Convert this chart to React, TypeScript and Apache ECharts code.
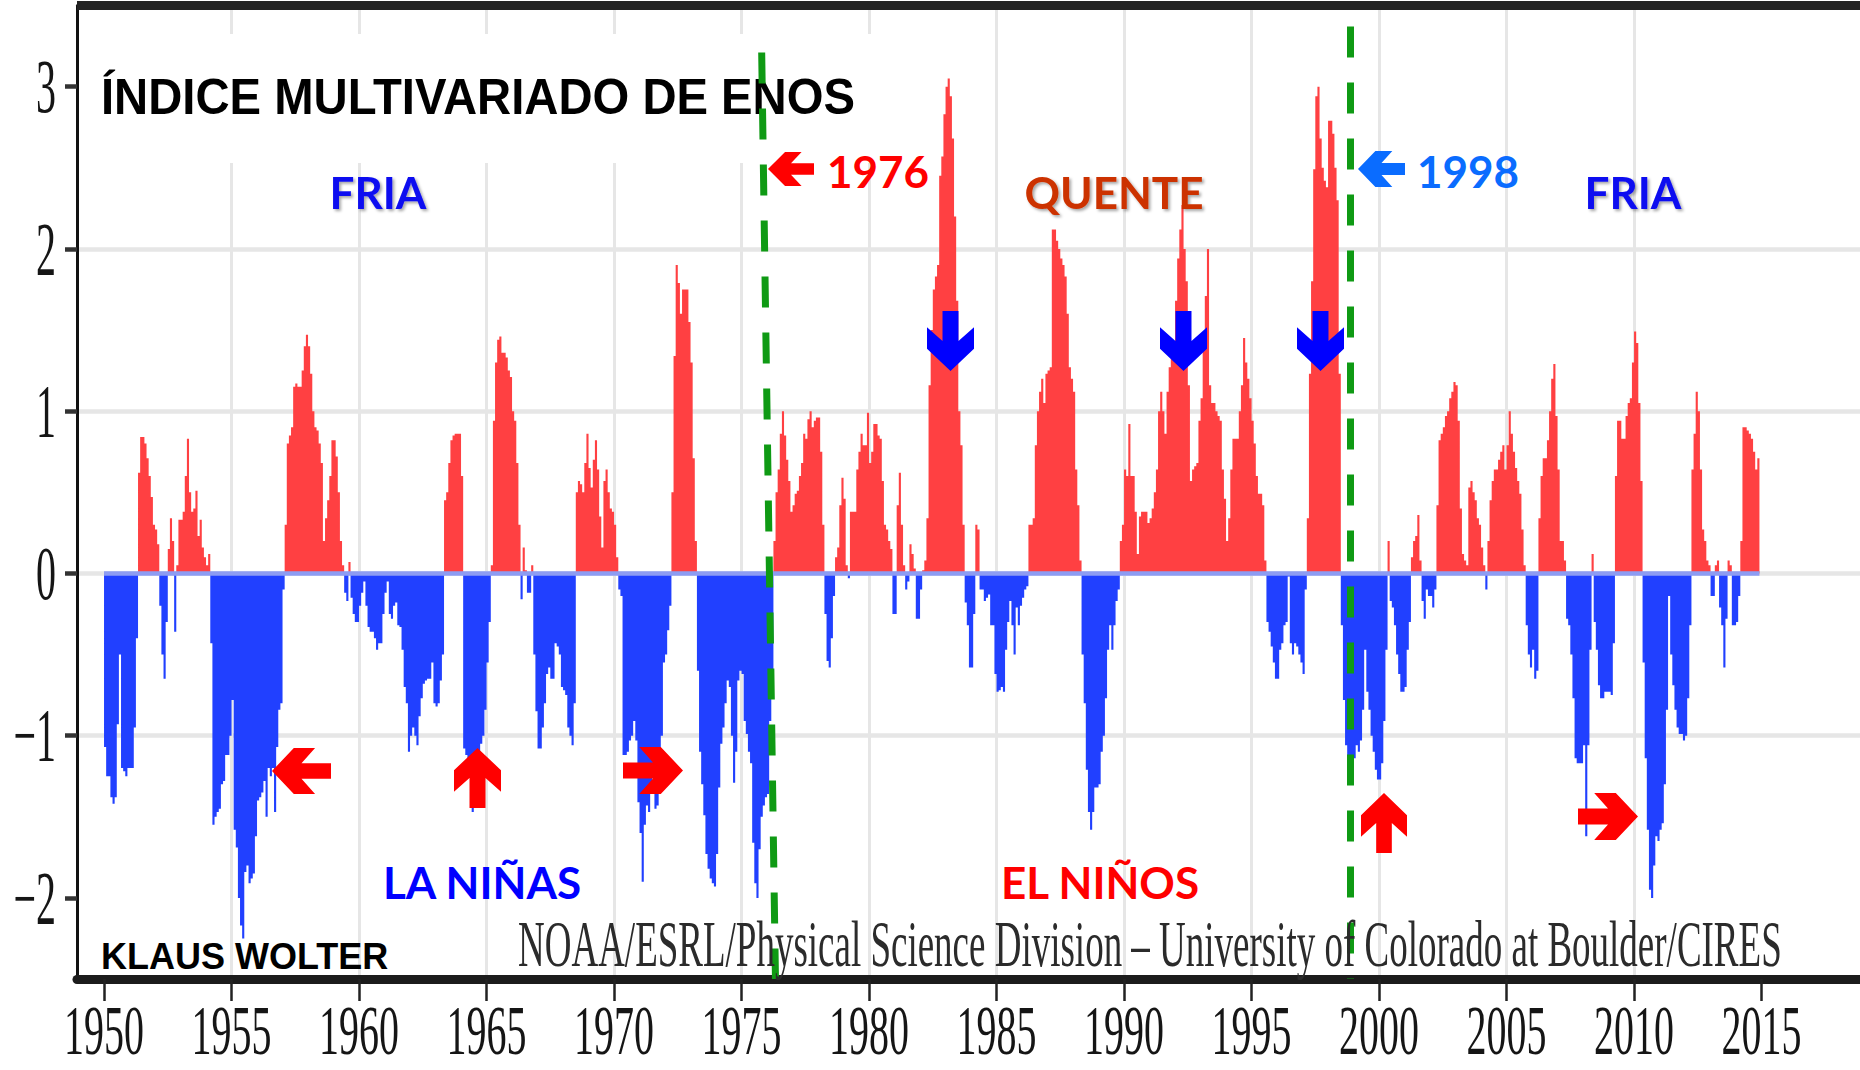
import React, { useEffect, useRef } from "react";
import * as echarts from "echarts";

// ---------------- DATA (monthly MEI values) ----------------
const START_YEAR = 1950;

const mei1950s = [
  -1.07, -1.25, -1.25, -1.38, -1.42, -1.38, -0.93, -0.5, -1.2, -1.22, -1.25, -1.2,
  -1.2, -1.2, -0.95, -0.4, 0.62, 0.84, 0.84, 0.8, 0.71, 0.6, 0.47, 0.3,
  0.27, 0.18, -0.2, -0.5, -0.65, -0.3, 0.15, 0.34, 0.2, -0.36, 0.05, 0.33,
  0.33, 0.38, 0.6, 0.83, 0.5, 0.38, 0.4, 0.51, 0.23, 0.33, 0.16, 0.1,
  0.05, 0.12, -0.43, -1.55, -1.5, -1.47, -1.45, -1.3, -1.28, -1.12, -1.12, -1.0,
  -0.78, -1.58, -1.69, -2.0, -2.17, -2.25, -1.84, -1.8, -1.91, -1.88, -1.85, -1.62,
  -1.4, -1.38, -1.35, -1.28, -1.5, -1.2, -1.25, -1.2, -1.47, -1.07, -0.84, -0.8,
  -0.1, 0.3, 0.8, 0.85, 0.9, 1.15, 1.17, 1.15, 1.15, 1.25, 1.4, 1.47,
  1.4, 1.23, 1.0, 0.9, 0.88, 0.8, 0.68, 0.2, 0.34, 0.45, 0.6, 0.82,
  0.82, 0.72, 0.5, 0.2, 0.05, -0.12, -0.17, 0.07, -0.15, -0.25, -0.3, -0.3,
];
const mei1960s = [
  -0.2, -0.12, -0.05, -0.2, -0.33, -0.36, -0.36, -0.4, -0.47, -0.43, -0.43, -0.25,
  -0.12, -0.05, -0.25, -0.28, -0.2, -0.18, -0.32, -0.33, -0.47, -0.7, -0.8, -1.1,
  -1.0, -0.95, -1.0, -1.06, -0.88, -0.77, -0.68, -0.66, -0.65, -0.65, -0.55, -0.8,
  -0.82, -0.8, -0.66, -0.5, 0.45, 0.5, 0.68, 0.82, 0.85, 0.86, 0.86, 0.86,
  0.6, -1.08, -1.12, -1.14, -1.2, -1.47, -1.13, -1.13, -1.1, -1.05, -1.0, -0.84,
  -0.55, -0.3, 0.05, 0.94, 1.3, 1.44, 1.46, 1.36, 1.36, 1.33, 1.25, 1.21,
  1.0, 0.94, 0.68, 0.3, -0.16, 0.16, 0.02, -0.12, -0.12, 0.05, -0.5, -0.85,
  -1.08, -1.08, -0.95, -0.8, -0.62, -0.58, -0.65, -0.65, -0.43, -0.45, -0.5, -0.7,
  -0.72, -0.75, -0.95, -1.0, -1.06, -0.8, 0.5, 0.57, 0.55, 0.5, 0.68, 0.86,
  0.65, 0.53, 0.7, 0.82, 0.64, 0.35, 0.16, 0.57, 0.64, 0.5, 0.4, 0.38,
];
const mei1970s = [
  0.3, 0.1, -0.1, -0.14, -1.12, -1.12, -1.1, -1.03, -1.0, -0.91, -1.03, -1.41,
  -1.6, -1.9, -1.55, -1.43, -1.47, -1.3, -1.2, -1.45, -1.43, -1.2, -1.0, -0.55,
  -0.5, -0.35, -0.2, 0.5, 1.34, 1.9, 1.79, 1.6, 1.75, 1.75, 1.75, 1.55,
  1.3, 0.71, 0.2, -0.6, -1.1, -1.3, -1.49, -1.73, -1.82, -1.88, -1.91, -1.93,
  -1.73, -1.32, -1.05, -0.95, -0.8, -0.66, -0.7, -1.0, -1.29, -1.1, -0.66, -0.6,
  -0.62, -0.91, -0.99, -1.1, -1.17, -1.66, -1.91, -2.0, -1.7, -1.5, -1.43, -1.38,
  -1.36, -0.91, -0.66, 0.2, 0.5, 0.64, 0.86, 1.0, 0.85, 0.7, 0.57, 0.38,
  0.42, 0.49, 0.51, 0.6, 0.68, 0.86, 0.83, 0.95, 1.0, 0.9, 0.94, 0.96,
  0.96, 0.75, 0.3, -0.25, -0.54, -0.58, -0.4, -0.14, 0.1, 0.16, 0.42, 0.59,
  0.46, 0.05, -0.03, 0.38, 0.38, 0.38, 0.64, 0.75, 0.86, 0.79, 0.79, 0.99,
];
const mei1980s = [
  0.68, 0.75, 0.92, 0.92, 0.85, 0.83, 0.57, 0.3, 0.27, 0.2, 0.15, -0.25,
  -0.25, 0.42, 0.62, 0.3, 0.05, -0.1, -0.05, 0.18, 0.12, 0.03, -0.28, -0.28,
  -0.1, 0.02, 0.08, 0.34, 1.16, 1.5, 1.75, 1.83, 1.9, 2.45, 2.57, 2.83,
  3.0, 3.05, 2.94, 2.68, 2.2, 1.68, 1.0, 0.79, 0.3, -0.18, -0.32, -0.58,
  -0.58, -0.25, 0.3, 0.27, -0.1, -0.1, -0.17, -0.15, -0.13, -0.32, -0.32, -0.62,
  -0.73, -0.72, -0.7, -0.73, -0.47, -0.3, -0.17, -0.32, -0.5, -0.21, -0.32, -0.2,
  -0.15, -0.1, -0.08, 0.3, 0.3, 0.34, 0.79, 1.0, 1.12, 1.2, 1.05, 1.23,
  1.25, 1.27, 2.12, 2.12, 2.05, 2.0, 1.94, 1.9, 1.83, 1.6, 1.27, 1.2,
  1.12, 0.64, 0.42, 0.08, -0.5, -0.8, -1.21, -1.47, -1.58, -1.47, -1.32, -1.32,
  -1.3, -1.1, -1.0, -0.77, -0.47, -0.32, -0.47, -0.32, -0.17, -0.1, 0.2, 0.3,
];
const mei1990s = [
  0.64, 0.6, 0.92, 0.6, 0.6, 0.38, 0.12, 0.35, 0.38, 0.38, 0.38, 0.31,
  0.34, 0.4, 0.5, 0.64, 1.0, 1.12, 1.0, 0.86, 1.12, 1.27, 1.35, 1.42,
  1.68, 1.94, 2.12, 2.27, 2.0, 1.8, 1.16, 0.57, 0.64, 0.66, 0.68, 0.94,
  1.08, 1.38, 1.71, 2.0, 1.16, 1.05, 1.05, 1.0, 0.97, 0.94, 0.64, 0.46,
  0.2, 0.34, 0.64, 0.83, 0.83, 0.83, 1.0, 1.16, 1.45, 1.3, 1.2, 1.08,
  0.94, 0.8, 0.6, 0.49, 0.49, 0.42, 0.08, -0.3, -0.36, -0.45, -0.55, -0.65,
  -0.65, -0.47, -0.43, -0.32, -0.3, -0.02, -0.43, -0.5, -0.43, -0.45, -0.5, -0.55,
  -0.62, -0.1, 0.34, 1.23, 1.8, 2.49, 2.94, 3.0, 2.68, 2.5, 2.42, 2.38,
  2.79, 2.79, 2.71, 2.5, 2.3, 1.23, -0.32, -0.78, -1.06, -1.12, -1.14, -1.14,
  -1.14, -1.06, -1.1, -1.03, -0.84, -0.47, -0.73, -0.84, -1.0, -1.1, -1.21, -1.27,
];
const mei2000s = [
  -1.27, -1.17, -0.91, -0.47, 0.2, -0.17, -0.21, -0.32, -0.5, -0.62, -0.73, -0.73,
  -0.7, -0.47, -0.3, 0.1, 0.2, 0.23, 0.36, 0.08, -0.17, -0.28, -0.1, -0.14,
  -0.14, -0.21, -0.1, 0.42, 0.82, 0.86, 0.9, 0.97, 1.0, 1.08, 1.12, 1.18,
  1.16, 0.94, 0.4, 0.12, 0.08, 0.05, 0.53, 0.57, 0.5, 0.45, 0.34, 0.3,
  0.16, 0.05, -0.1, 0.2, 0.45, 0.57, 0.64, 0.64, 0.7, 0.75, 0.79, 0.64,
  0.79, 1.0, 0.86, 0.75, 0.65, 0.57, 0.49, 0.27, 0.05, -0.32, -0.5, -0.58,
  -0.47, -0.65, -0.6, 0.34, 0.6, 0.71, 0.71, 0.82, 1.0, 1.2, 1.29, 0.97,
  0.64, 0.2, 0.2, 0.08, -0.28, -0.32, -0.5, -0.77, -1.14, -1.17, -1.17, -1.17,
  -1.06, -1.62, -1.06, -0.47, 0.12, -0.3, -0.47, -0.69, -0.77, -0.77, -0.73, -0.73,
  -0.73, -0.75, -0.43, 0.6, 0.94, 0.94, 0.83, 0.83, 0.97, 1.05, 1.08, 1.3,
];
const mei2010s = [
  1.49, 1.42, 1.05, 0.57, -0.55, -1.14, -1.58, -1.95, -2.0, -1.8, -1.62, -1.65,
  -1.58, -1.54, -1.3, -0.84, -0.14, -0.5, -0.69, -0.84, -0.95, -0.99, -0.99, -1.03,
  -1.0, -0.77, -0.32, 0.64, 0.86, 1.12, 1.0, 0.64, 0.27, 0.2, 0.08, 0.05,
  -0.14, -0.14, 0.05, 0.08, -0.21, -0.32, -0.58, -0.28, 0.08, 0.05, -0.32, -0.32,
  -0.3, -0.14, 0.2, 0.9, 0.9, 0.88, 0.86, 0.83, 0.75, 0.64, 0.71,
];

const meiValues = [...mei1950s, ...mei1960s, ...mei1970s, ...mei1980s, ...mei1990s, ...mei2000s, ...mei2010s];

const xTickYears = [1950, 1955, 1960, 1965, 1970, 1975, 1980, 1985, 1990, 1995, 2000, 2005, 2010, 2015];
const xTickLabels = xTickYears.map((y) => String(y));
const yTickValues = [-2, -1, 0, 1, 2, 3];
const yTickLabels = ["\u22122", "\u22121", "0", "1", "2", "3"];

// regime-shift dashed lines: [top point, bottom point] in [year, value]
const shiftLines = [
  [[1975.79, 3.21], [1976.33, -2.5]],
  [[1998.88, 3.37], [1998.88, -2.5]],
];

// ---------------- STYLE ----------------
const RED = "#ff4042";
const BLUE = "#2140ff";
const ARROW_SHAPE = [
  [0, 0.5], [0.37, 0], [0.73, 0], [0.5, 0.33], [1, 0.33],
  [1, 0.67], [0.5, 0.67], [0.73, 1], [0.37, 1],
];

function arrowPoints(x0: number, y0: number, x1: number, y1: number, dir: string) {
  const w = x1 - x0;
  const h = y1 - y0;
  return ARROW_SHAPE.map(([u, v]) => {
    if (dir === "left") return [x0 + u * w, y0 + v * h];
    if (dir === "right") return [x1 - u * w, y0 + v * h];
    if (dir === "up") return [x0 + v * w, y0 + u * h];
    return [x0 + v * w, y1 - u * h];
  });
}

function txt(text: string, x: number, y: number, o: any) {
  const shadow = o.shadow
    ? { textShadowColor: "rgba(0,0,0,0.35)", textShadowBlur: 3, textShadowOffsetX: 2, textShadowOffsetY: 2 }
    : {};
  return {
    type: "text",
    x,
    y,
    scaleX: o.sx ?? 1,
    scaleY: o.sy ?? 1,
    z: o.z ?? 10,
    silent: true,
    style: {
      text,
      fill: o.color,
      fontSize: o.size,
      fontWeight: o.weight ?? "normal",
      fontFamily: o.family,
      textAlign: o.align ?? "center",
      textVerticalAlign: "middle",
      align: o.align ?? "center",
      verticalAlign: "middle",
      ...shadow,
    },
  };
}

export default function App() {
  const ref = useRef<HTMLDivElement>(null);

  useEffect(() => {
    const el = ref.current;
    if (!el) return;
    const chart = echarts.init(el, null, { renderer: "svg" });

    const n = meiValues.length;
    const endYear = START_YEAR + n / 12;
    const posData: number[][] = meiValues.map((v, i) => [START_YEAR + i / 12, Math.max(v, 0)]);
    posData.push([endYear, 0]);
    const negData: number[][] = meiValues.map((v, i) => [START_YEAR + i / 12, Math.min(v, 0)]);
    negData.push([endYear, 0]);

    chart.setOption({
      animation: false,
      backgroundColor: "#ffffff",
      grid: { left: 77, right: 0, top: 5.5, bottom: 91, containLabel: false },
      xAxis: {
        type: "value",
        min: 1948.94,
        max: 2018.86,
        splitNumber: 14,
        axisLine: { show: true, onZero: false, lineStyle: { color: "#1c1c1c", width: 9 } },
        axisTick: { show: true, length: 22, lineStyle: { color: "#222", width: 2.5 }, customValues: xTickYears },
        axisLabel: { show: false },
        splitLine: { show: true, showMinLine: false, showMaxLine: false, lineStyle: { color: "#e6e6e6", width: 3 } },
      },
      yAxis: {
        type: "value",
        min: -2.5,
        max: 3.5,
        splitNumber: 6,
        axisLine: { show: true, lineStyle: { color: "#111", width: 3 } },
        axisTick: { show: true, length: 12, lineStyle: { color: "#333", width: 4.5 }, customValues: yTickValues },
        axisLabel: { show: false },
        splitLine: { show: true, showMinLine: false, showMaxLine: false, lineStyle: { color: "#e6e6e6", width: 4.5 } },
      },
      series: [
        {
          type: "line",
          step: "end",
          symbol: "none",
          silent: true,
          data: posData,
          lineStyle: { width: 0, opacity: 0 },
          areaStyle: { color: RED, opacity: 1 },
        },
        {
          type: "line",
          step: "end",
          symbol: "none",
          silent: true,
          data: negData,
          lineStyle: { width: 0, opacity: 0 },
          areaStyle: { color: BLUE, opacity: 1 },
          markLine: {
            silent: true,
            symbol: ["none", "none"],
            label: { show: false },
            emphasis: { disabled: true },
            data: [
              [
                { coord: [START_YEAR, 0], lineStyle: { color: "#8d9cf3", width: 4.5, type: "solid" } },
                { coord: [endYear, 0] },
              ],
              ...shiftLines.map((ln) => [
                { coord: ln[0], lineStyle: { color: "#0f9a14", width: 7, type: [31, 25] } },
                { coord: ln[1] },
              ]),
            ],
          },
        },
      ],
    });

    const px = (v: number) => chart.convertToPixel({ xAxisIndex: 0 }, v) as number;
    const py = (v: number) => chart.convertToPixel({ yAxisIndex: 0 }, v) as number;

    const serif = "'Liberation Serif', 'DejaVu Serif', serif";
    const calibri = { family: "Lato, 'Open Sans', sans-serif", size: 44, weight: "bold", shadow: true, z: 12 };

    const elements: any[] = [
      // white box behind title
      { type: "rect", z: 1, silent: true, shape: { x: 79, y: 34, width: 863, height: 129 }, style: { fill: "#ffffff" } },
      txt("ÍNDICE MULTIVARIADO DE ENOS", 101, 97, {
        family: "'Liberation Sans', Arial, sans-serif", size: 50, weight: "bold", color: "#000", align: "left", sx: 0.945, z: 1,
      }),
      // top frame
      { type: "rect", z: 20, silent: true, shape: { x: 77, y: 1, width: 1783, height: 9 }, style: { fill: "#232323" } },
      // phase labels
      txt("FRIA", 378, 192, { ...calibri, color: "#0a0af0" }),
      txt("QUENTE", 1114, 192, { ...calibri, color: "#cc3300" }),
      txt("FRIA", 1633, 192, { ...calibri, color: "#0a0af0" }),
      txt("1976", 878, 171, { ...calibri, color: "#ff0000", shadow: false }),
      txt("1998", 1468, 171, { ...calibri, color: "#0a6cff", shadow: false }),
      txt("LA NIÑAS", 482, 882, { ...calibri, color: "#0000ff", shadow: false }),
      txt("EL NIÑOS", 1100, 882, { ...calibri, color: "#ff0000", shadow: false }),
      txt("KLAUS WOLTER", 101, 956, {
        family: "'Liberation Sans', Arial, sans-serif", size: 36, weight: "bold", color: "#000", align: "left",
      }),
      txt("NOAA/ESRL/Physical Science Division \u2013 University of Colorado at Boulder/CIRES", 518, 944, {
        family: serif, size: 37, sy: 1.75, color: "#2b2b2b", align: "left",
      }),
    ];

    // arrows
    const arrows: [number, number, number, number, string, string][] = [
      [272, 748, 331, 794, "left", "#ff0000"],
      [454, 748, 501, 808, "up", "#ff0000"],
      [623, 747, 683, 794, "right", "#ff0000"],
      [1361, 793, 1407, 853, "up", "#ff0000"],
      [1578, 793, 1638, 840, "right", "#ff0000"],
      [768, 152, 814, 186, "left", "#ff0000"],
      [927, 311, 974, 371, "down", "#0000ff"],
      [1160, 311, 1207, 371, "down", "#0000ff"],
      [1297, 311, 1344, 371, "down", "#0000ff"],
      [1358, 151, 1405, 187, "left", "#0a6cff"],
    ];
    arrows.forEach(([x0, y0, x1, y1, dir, color]) => {
      elements.push({
        type: "polygon",
        z: 11,
        silent: true,
        shape: { points: arrowPoints(x0, y0, x1, y1, dir) },
        style: { fill: color },
      });
    });

    // tick labels through the axes' scales
    xTickYears.forEach((yr, i) => {
      elements.push(txt(xTickLabels[i], px(yr), 1030, { family: serif, size: 40, sy: 1.75, color: "#151515", z: 12 }));
    });
    yTickValues.forEach((v, i) => {
      elements.push(txt(yTickLabels[i], 56, py(v), { family: serif, size: 40, sy: 1.9, color: "#151515", z: 12, align: "right" }));
    });

    chart.setOption({ graphic: { elements } });

    return () => {
      chart.dispose();
    };
  }, []);

  return (
    <div
      ref={ref}
      style={{ position: "fixed", left: 0, top: 0, width: 1860, height: 1070, background: "#ffffff" }}
    />
  );
}
